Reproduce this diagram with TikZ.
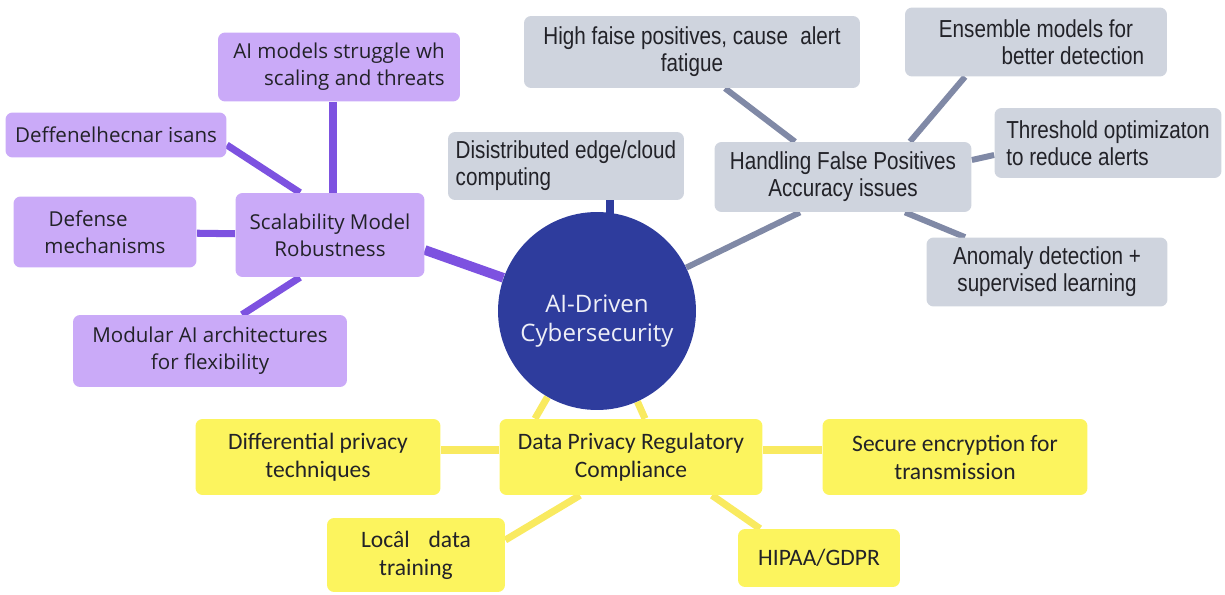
\documentclass[tikz,border=0pt]{standalone}
\usepackage{fontspec}
\setmainfont{Open Sans}
\newfontfamily\slatefont[FakeStretch=0.84]{Liberation Sans}
\newfontfamily\lemonfont{Carlito}
\usepackage{tikz}
\usetikzlibrary{shapes,arrows}
\usetikzlibrary{calc,backgrounds}

\definecolor{hubblue}{RGB}{46,60,157}
\definecolor{lavender}{RGB}{202,170,248}
\definecolor{violetline}{RGB}{125,82,224}
\definecolor{slategrey}{RGB}{207,212,222}
\definecolor{slateline}{RGB}{128,137,166}
\definecolor{lemon}{RGB}{252,244,94}
\definecolor{lemonline}{RGB}{249,234,96}
\definecolor{inkgrey}{RGB}{34,34,40}

\begin{document}
\begin{tikzpicture}[x=0.02cm,y=-0.02cm]
        \tikzstyle{hub} = [circle, fill=hubblue, minimum size=3.96cm]
        \tikzstyle{hubtext} = [text=white!92!hubblue, align=center, font=\fontsize{13.7}{17}\selectfont, yshift=-0.2cm]
        \tikzstyle{purplebox} = [rectangle, fill=lavender, rounded corners=4pt, align=center, text=inkgrey, font=\fontsize{11.7}{15.3}\selectfont]
        \tikzstyle{greybox} = [rectangle, fill=slategrey, rounded corners=4pt, align=center, text=inkgrey, font=\slatefont\fontsize{14}{15.5}\selectfont]
        \tikzstyle{yellowbox} = [rectangle, fill=lemon, rounded corners=4pt, align=center, text=inkgrey, font=\lemonfont\fontsize{13.4}{16}\selectfont]
        \tikzstyle{violetlink} = [draw, violetline, line width=4pt]
        \tikzstyle{slatelink} = [draw, slateline, line width=3.4pt]
        \tikzstyle{lemonlink} = [draw, lemonline, line width=4pt]

        \useasboundingbox (0,0) rectangle (1225,595);

        % centre of the map
        \node [hub, label={[hubtext]center:AI-Driven\\Cybersecurity}] (hub) at (597,311) {};

        % scalability branch
        \node [purplebox, minimum width=3.78cm, minimum height=1.68cm] (scalability) at (330,235) {Scalability Model\\Robustness};
        \node [purplebox, minimum width=4.84cm, minimum height=1.38cm] (struggle) at (339,67) {AI models struggle wh\\\hspace{1.5em}scaling and threats};
        \node [purplebox, minimum width=4.42cm, minimum height=0.9cm] (garbled) at (116,135) {Deffenelhecnar isans};
        \node [purplebox, minimum width=3.66cm, minimum height=1.42cm, align=left] (defense) at (105,232) {\hspace{0.2em}Defense\\mechanisms};
        \node [purplebox, minimum width=5.48cm, minimum height=1.44cm] (modular) at (210,351) {Modular AI architectures\\for flexibility};

        % false positive branch
        \node [greybox, minimum width=5.14cm, minimum height=1.4cm] (falsepos) at (843,177) {Handling False Positives\\Accuracy issues};
        \node [greybox, minimum width=6.72cm, minimum height=1.44cm] (fatigue) at (692,52) {High faise positives, cause\hspace{0.5em}alert\\fatigue};
        \node [greybox, minimum width=5.24cm, minimum height=1.38cm] (ensemble) at (1036,42) {Ensemble models for\\\hspace{3em}better detection};
        \node [greybox, minimum width=4.54cm, minimum height=1.4cm, align=left] (threshold) at (1108,143) {Threshold optimizaton\\to reduce alerts};
        \node [greybox, minimum width=4.82cm, minimum height=1.38cm] (anomaly) at (1047,272) {Anomaly detection +\\supervised learning};
        \node [greybox, minimum width=4.72cm, minimum height=1.36cm, align=left] (edgecloud) at (566,166) {Disistributed edge/cloud\\computing};

        % privacy branch
        \node [yellowbox, minimum width=5.26cm, minimum height=1.52cm] (privacy) at (631,457) {Data Privacy Regulatory\\Compliance};
        \node [yellowbox, minimum width=4.9cm, minimum height=1.52cm] (diffpriv) at (318,457) {Differential privacy\\techniques};
        \node [yellowbox, minimum width=5.3cm, minimum height=1.52cm] (encrypt) at (955,457) {Secure encryption for\\transmission};
        \node [yellowbox, minimum width=3.56cm, minimum height=1.48cm] (localdata) at (416,555) {Locâl\hspace{0.8em}data\\training};
        \node [yellowbox, minimum width=3.24cm, minimum height=1.16cm] (hipaa) at (819,558) {HIPAA/GDPR};

        \begin{pgfonlayer}{background}
        \path [violetlink] ($(struggle.south)+(-6,0)$) -- ($(scalability.north)+(3,0)$);
        \path [violetlink] ($(garbled.east)+(0,10)$) -- ($(scalability.north)+(-30,0)$);
        \path [violetlink] (defense) -- (scalability);
        \path [violetlink] ($(modular.north)+(32,0)$) -- ($(scalability.south)+(-30,0)$);
        \path [violetlink, line width=5.5pt] ($(scalability.east)+(0,15)$) -- (hub);

        \path [slatelink] ($(fatigue.south)+(33,0)$) -- ($(falsepos.north)+(-48,0)$);
        \path [slatelink] ($(ensemble.south)+(-71,0)$) -- ($(falsepos.north)+(67,0)$);
        \path [slatelink] ($(threshold.west)+(0,12)$) -- ($(falsepos.east)+(0,-17)$);
        \path [slatelink] ($(anomaly.north)+(-82,0)$) -- ($(falsepos.south)+(62,0)$);
        \path [slatelink] ($(falsepos.south)+(-43,0)$) -- (hub);
        \path [draw, hubblue, line width=4pt] ($(edgecloud.south)+(44,0)$) -- ($(hub.north)+(13,10)$);

        \path [lemonlink] ($(privacy.north)+(-96,0)$) -- (hub);
        \path [lemonlink] ($(privacy.north)+(14,0)$) -- (hub);
        \path [lemonlink] ($(diffpriv.east)+(0,-7)$) -- ($(privacy.west)+(0,-7)$);
        \path [lemonlink] ($(encrypt.west)+(0,-7)$) -- ($(privacy.east)+(0,-7)$);
        \path [lemonlink] ($(localdata.east)+(0,-15)$) -- ($(privacy.south)+(-51,0)$);
        \path [lemonlink] ($(hipaa.north)+(-59,0)$) -- ($(privacy.south)+(81,0)$);
        \end{pgfonlayer}
    \end{tikzpicture}
\end{document}
